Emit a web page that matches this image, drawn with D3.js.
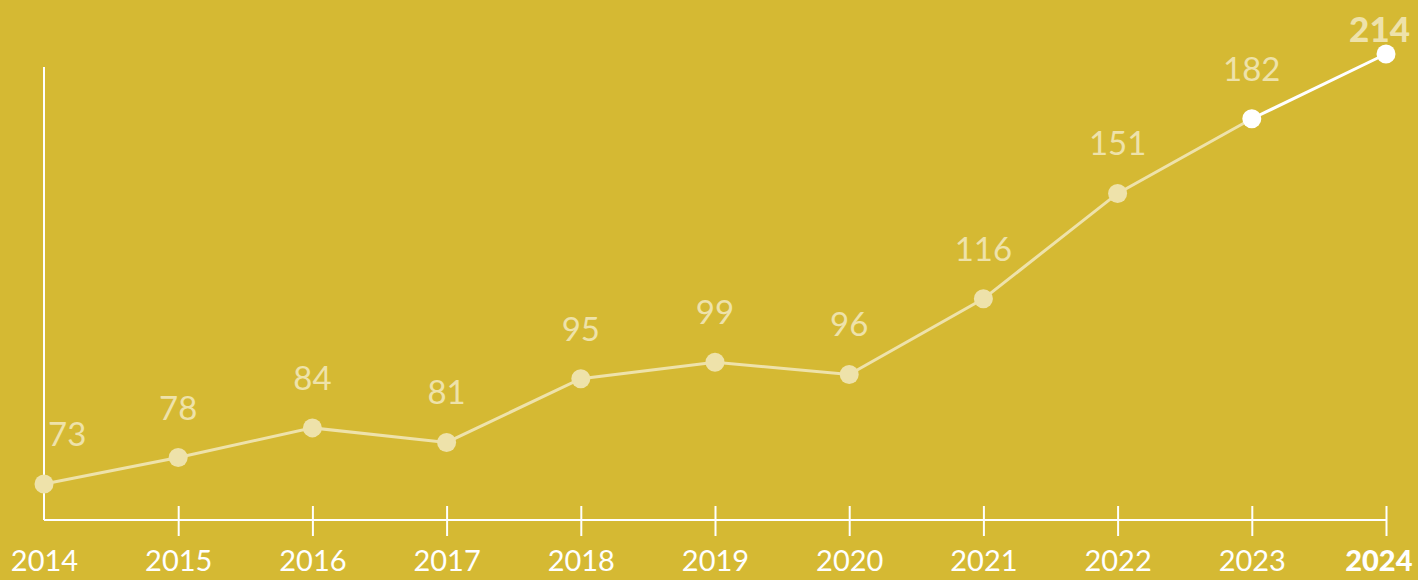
<!DOCTYPE html>
<html>
<head>
<meta charset="utf-8">
<script src="https://cdn.jsdelivr.net/npm/d3@7"></script>
<style>
  html, body { margin: 0; padding: 0; background: #D5B933; overflow: hidden; }
  svg { display: block; }
</style>
</head>
<body>
<svg id="chart" width="1418" height="580"></svg>
<script>
// ---- data ----
const years  = ["2014","2015","2016","2017","2018","2019","2020","2021","2022","2023","2024"];
const values = [73, 78, 84, 81, 95, 99, 96, 116, 151, 182, 214];
const highlightFrom = "2023";   // segment + points drawn in white from here on
const boldYear = "2024";        // emphasised year / value

// ---- styling ----
const W = 1418, H = 580;
const BG = "#D5B933", CREAM = "#EEE2AA", WHITE = "#FFFFFF";
const FONT = "Lato, 'Open Sans', sans-serif";

const svg = d3.select("#chart");
svg.append("rect").attr("width", W).attr("height", H).attr("fill", BG);

const baseY = 520, axisTop = 67;
const x = d3.scalePoint().domain(years).range([44, 1386]);
const y = d3.scaleLog().domain([d3.min(values), d3.max(values)]).range([484, 54]);

const data = years.map((yr, i) => ({ year: yr, value: values[i] }));

// vertical axis line
svg.append("line")
  .attr("x1", x(years[0])).attr("x2", x(years[0]))
  .attr("y1", axisTop).attr("y2", baseY)
  .attr("stroke", WHITE).attr("stroke-width", 2);

// bottom axis
const axis = svg.append("g")
  .attr("transform", `translate(0,${baseY})`)
  .call(d3.axisBottom(x).tickSize(0).tickPadding(0));
axis.select(".domain").remove();
axis.append("line")
  .attr("x1", x(years[0])).attr("x2", x(years[years.length - 1]) + 1)
  .attr("y1", 0).attr("y2", 0)
  .attr("stroke", WHITE).attr("stroke-width", 2);
axis.selectAll(".tick line")
  .attr("y1", -14).attr("y2", 16)
  .attr("stroke", WHITE).attr("stroke-width", 2)
  .filter(d => d === years[0]).remove();
axis.selectAll(".tick text")
  .attr("dy", null).attr("y", 51)
  .attr("fill", WHITE)
  .attr("font-family", FONT)
  .attr("font-size", 29)
  .attr("font-weight", d => d === boldYear ? 900 : 400)
  .attr("text-anchor", "middle");
// keep edge labels inside the frame
axis.selectAll(".tick").each(function(d) {
  const t = d3.select(this).select("text");
  const w = t.node().getComputedTextLength();
  const cx = x(d);
  const maxC = W - 6 - w / 2;
  if (cx > maxC) t.attr("x", maxC - cx);
});

// line
const hiIdx = years.indexOf(highlightFrom);
const line = d3.line().x(d => x(d.year)).y(d => y(d.value));
svg.append("path")
  .datum(data.slice(0, hiIdx + 1))
  .attr("d", line)
  .attr("fill", "none").attr("stroke", CREAM).attr("stroke-width", 3);
svg.append("path")
  .datum(data.slice(hiIdx))
  .attr("d", line)
  .attr("fill", "none").attr("stroke", WHITE).attr("stroke-width", 3);

// points
svg.selectAll("circle.pt")
  .data(data).join("circle")
  .attr("class", "pt")
  .attr("cx", d => x(d.year)).attr("cy", d => y(d.value))
  .attr("r", 9.5)
  .attr("fill", (d, i) => i >= hiIdx ? WHITE : CREAM);

// value labels
svg.selectAll("text.val")
  .data(data).join("text")
  .attr("class", "val")
  .attr("font-family", FONT)
  .attr("font-size", d => d.year === boldYear ? 35 : 33)
  .attr("font-weight", d => d.year === boldYear ? 900 : 400)
  .attr("fill", CREAM)
  .attr("text-anchor", (d, i) => i === 0 ? "start" : "middle")
  .attr("x", (d, i) => i === 0 ? x(d.year) + 4 : x(d.year))
  .attr("y", d => Math.max(y(d.value) - 38, 42))
  .text(d => d.value)
  .each(function(d, i) {
    if (i === 0) return;
    const w = this.getComputedTextLength();
    const maxC = W - 8 - w / 2;
    if (x(d.year) > maxC) d3.select(this).attr("x", maxC);
  });
</script>
</body>
</html>
